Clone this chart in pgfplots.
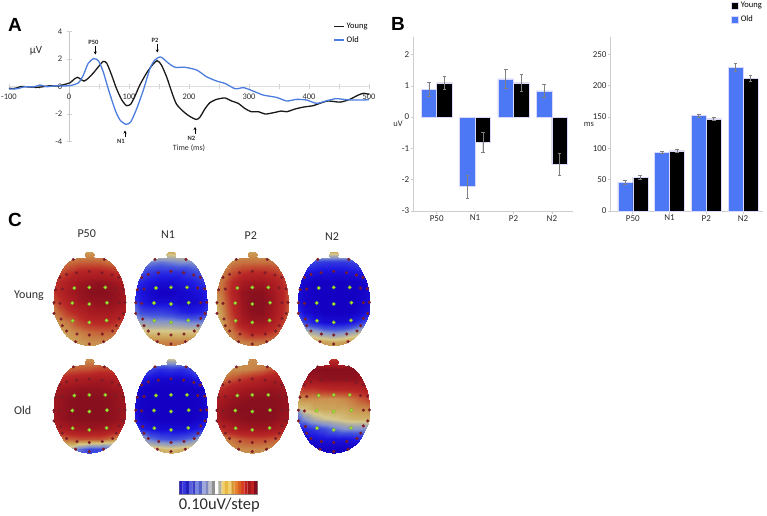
\documentclass[border=0pt]{standalone}
\usepackage{fontspec}
\setmainfont{Carlito}
\newfontfamily\lsans{Liberation Sans}
\usepackage{pgfplots}
\usepackage{pgfplotstable}
\usetikzlibrary{arrows.meta}
\pgfplotsset{compat=1.18}
\definecolor{cblue}{RGB}{76,125,222}
\definecolor{bblue}{RGB}{76,120,245}
\definecolor{axg}{RGB}{205,205,205}
\definecolor{txt}{RGB}{45,45,45}
\definecolor{dotdark}{RGB}{125,28,38}
\definecolor{dotgreen}{RGB}{160,235,50}
\definecolor{dotrim}{RGB}{120,160,45}
\pgfplotsset{
  colormap={topo}{rgb255(0)=(20,0,195) rgb255(2)=(30,25,225) rgb255(5)=(70,85,220) rgb255(7)=(130,145,205) rgb255(9)=(172,172,165) rgb255(10.5)=(215,200,140) rgb255(12)=(205,170,95) rgb255(13.5)=(200,130,70) rgb255(15)=(195,80,50) rgb255(16.5)=(185,40,38) rgb255(18.5)=(165,25,32) rgb255(20)=(135,15,30)},
  headax/.style={hide axis, scale only axis, width=80pt, height=104pt, xmin=-40, xmax=40, ymin=-52, ymax=52, clip=false},
  barax/.style={scale only axis, axis x line=bottom, axis y line=left, axis line style={axg,-,line width=0.9pt},
    tick style={axg,line width=0.6pt}, major tick length=2.5pt, tick align=outside,
    xtick={0,1,2,3}, xticklabels={P50,N1,P2,N2},
    ticklabel style={font=\fontsize{9}{10}\selectfont, text=txt, inner sep=1.5pt},
    /pgf/number format/assume math mode=true,
    error bars/error bar style={draw=black!50,line width=0.7pt},
    error bars/error mark options={rotate=90,draw=black!50,mark size=1.8pt,line width=0.6pt},
    xtick pos=bottom, ytick pos=left},
}
% curves: time (ms), amplitude (uV)
\pgfplotstableread{
t v
-100 -0.12
-90 -0.12
-79 0.02
-68 -0.02
-54 -0.05
-43 0
-32 0.07
-18 0.05
-7 0.17
2 0.29
8 0.53
14 0.68
19 0.56
25 0.41
32 0.61
41 1.02
49 1.45
57 1.84
63 1.7
71 0.85
79 -0.12
88 -0.97
96 -1.38
103 -1.26
110 -0.68
118 0.12
129 0.97
138 1.53
147 1.89
154 1.58
163 0.68
171 -0.36
179 -1.26
191 -1.82
202 -2.18
212 -2.38
218 -2.23
227 -1.58
235 -1.16
246 -0.92
260 -0.82
271 -1.04
282 -1.21
293 -1.58
304 -1.82
316 -1.82
327 -1.99
341 -1.89
354 -1.77
363 -1.82
377 -1.62
391 -1.48
407 -1.38
418 -1.21
432 -1.04
452 -1.12
468 -0.92
482 -0.61
491 -0.48
500 -0.56
}\tYoung
\pgfplotstableread{
t v
-100 -0.17
-87 -0.15
-73 0
-59 -0.02
-48 0.12
-37 0
-23 0.07
-9 0.05
4 0.1
16 0.29
24 0.85
32 1.7
41 2.04
49 1.89
57 1.09
66 -0.24
77 -1.7
85 -2.42
95 -2.74
103 -2.55
113 -1.58
124 -0.24
135 1.33
143 1.94
153 2.16
166 1.7
177 1.41
193 1.41
213 1.21
229 0.73
246 0.41
260 0.24
277 -0.15
291 -0.07
307 -0.32
324 -0.61
346 -0.78
363 -1.04
379 -0.92
396 -0.97
413 -1.21
432 -0.99
446 -0.87
463 -0.95
482 -0.97
500 -0.95
}\tOld
% bars
\pgfplotstableread{
x y e
0 0.89 0.235
1 -2.22 0.36
2 1.22 0.30
3 0.84 0.21
}\tAO
\pgfplotstableread{
x y e
0 1.09 0.215
1 -0.81 0.33
2 1.09 0.265
3 -1.5 0.345
}\tAY
\pgfplotstableread{
x y e
0 46 3
1 94 2
2 152 3
3 229 6
}\tLO
\pgfplotstableread{
x y e
0 54 3
1 96 2.5
2 147 3
3 212 5
}\tLY
% electrodes
\pgfplotstableread{
u v
-15 13.7
0 14.3
16 14.3
-17 -1.3
0 -2.3
17.7 -1
-16.7 -19
0 -20.7
17.3 -18.7
}\tGreen
\pgfplotstableread{
u v
0 30.3
-12.7 29
12.7 29
-22.7 27.3
22.7 26.7
-29.3 24.3
29.3 24.3
-16 42.3
15 42.3
-33.7 12
-27 12.7
26.7 13.7
33.7 13
-35.3 -1
-29.3 -1.7
29.7 -1
35.7 -0.7
-35.3 -11.7
-28.3 -17.3
29.7 -16.7
34 -11.7
-22.7 -29.3
23.3 -29.3
-12.3 -32.3
13 -32.3
0 -33.3
-13.7 -40
14.3 -40
0 -42.3
-27 -24
27 -24
}\tDark
% scalp maps: 11 rows (v=50 to -50) of 9 columns (u=-40 to 40)
\pgfplotstableread[row sep=crcr,header=false]{
.25\\.25\\.25\\.25\\.25\\.25\\.25\\.25\\.25\\
.3\\.35\\.4\\.45\\.45\\.45\\.4\\.35\\.3\\
.45\\.5\\.6\\.7\\.72\\.72\\.68\\.6\\.5\\
.55\\.65\\.8\\.88\\.92\\.95\\.92\\.85\\.7\\
.55\\.68\\.85\\.93\\.98\\1\\.98\\.92\\.8\\
.45\\.6\\.75\\.88\\.92\\.95\\.95\\.9\\.8\\
.35\\.45\\.6\\.72\\.82\\.85\\.85\\.8\\.7\\
.2\\.3\\.4\\.55\\.65\\.68\\.68\\.6\\.5\\
.15\\.2\\.28\\.35\\.42\\.45\\.45\\.4\\.35\\
.15\\.15\\.2\\.25\\.3\\.3\\.3\\.3\\.3\\
.2\\.2\\.2\\.2\\.2\\.2\\.2\\.2\\.2\\
}\hYA
\pgfplotstableread[row sep=crcr,header=false]{
.2\\.2\\.2\\.2\\.2\\.2\\.2\\.2\\.2\\
-.2\\-.25\\-.35\\-.4\\-.35\\-.3\\-.3\\-.2\\-.2\\
-.45\\-.55\\-.65\\-.7\\-.7\\-.7\\-.6\\-.5\\-.4\\
-.6\\-.75\\-.85\\-.9\\-.9\\-.85\\-.8\\-.7\\-.6\\
-.7\\-.85\\-.95\\-1\\-1\\-.95\\-.9\\-.85\\-.7\\
-.6\\-.8\\-.9\\-.9\\-.9\\-.95\\-.95\\-.9\\-.7\\
-.4\\-.55\\-.6\\-.6\\-.65\\-.75\\-.8\\-.75\\-.55\\
-.1\\-.2\\-.25\\-.25\\-.25\\-.3\\-.35\\-.35\\-.2\\
.2\\.15\\.1\\.1\\.1\\.1\\.1\\.1\\.1\\
.35\\.35\\.35\\.35\\.35\\.35\\.35\\.35\\.35\\
.4\\.4\\.4\\.4\\.4\\.4\\.4\\.4\\.4\\
}\hYB
\pgfplotstableread[row sep=crcr,header=false]{
.25\\.25\\.25\\.25\\.25\\.25\\.25\\.25\\.25\\
.25\\.3\\.35\\.4\\.4\\.4\\.4\\.35\\.3\\
.3\\.35\\.5\\.6\\.65\\.65\\.6\\.5\\.4\\
.3\\.4\\.65\\.82\\.88\\.88\\.8\\.65\\.4\\
.3\\.4\\.7\\.92\\.98\\.98\\.88\\.7\\.4\\
.2\\.35\\.65\\.9\\1\\1\\.9\\.7\\.38\\
.1\\.3\\.6\\.88\\.98\\.98\\.88\\.68\\.3\\
0\\.25\\.5\\.8\\.9\\.9\\.8\\.6\\.3\\
.1\\.25\\.38\\.55\\.68\\.68\\.6\\.45\\.28\\
.2\\.25\\.3\\.35\\.38\\.38\\.35\\.3\\.25\\
.3\\.3\\.3\\.3\\.3\\.3\\.3\\.3\\.3\\
}\hYC
\pgfplotstableread[row sep=crcr,header=false]{
.2\\.2\\.2\\.2\\.2\\.2\\.2\\.2\\.2\\
-.4\\-.5\\-.6\\-.65\\-.65\\-.65\\-.6\\-.5\\-.4\\
-.7\\-.8\\-.85\\-.88\\-.88\\-.88\\-.85\\-.8\\-.7\\
-.85\\-.95\\-1\\-1\\-1\\-1\\-1\\-.95\\-.85\\
-.85\\-.95\\-1\\-1\\-1\\-1\\-1\\-.95\\-.85\\
-.85\\-.95\\-1\\-1\\-1\\-1\\-1\\-.95\\-.85\\
-.75\\-.9\\-.98\\-1\\-1\\-1\\-.98\\-.9\\-.75\\
-.3\\-.6\\-.8\\-.9\\-.92\\-.9\\-.8\\-.6\\-.35\\
.1\\0\\-.15\\-.3\\-.35\\-.3\\-.15\\0\\.1\\
.3\\.3\\.3\\.25\\.2\\.25\\.3\\.3\\.3\\
.3\\.3\\.3\\.3\\.3\\.3\\.3\\.3\\.3\\
}\hYD
\pgfplotstableread[row sep=crcr,header=false]{
.3\\.3\\.3\\.3\\.3\\.3\\.3\\.3\\.3\\
.35\\.4\\.45\\.48\\.5\\.55\\.55\\.5\\.45\\
.6\\.65\\.75\\.8\\.82\\.85\\.82\\.75\\.65\\
.8\\.88\\.92\\.95\\.95\\.95\\.92\\.88\\.78\\
.85\\.92\\.98\\1\\1\\1\\.98\\.92\\.85\\
.85\\.92\\.98\\1\\1\\1\\.98\\.92\\.85\\
.85\\.92\\.98\\1\\1\\1\\.98\\.92\\.85\\
.7\\.78\\.85\\.88\\.9\\.88\\.85\\.78\\.7\\
.25\\.35\\.45\\.5\\.5\\.5\\.4\\.25\\.1\\
-.1\\0\\-.1\\-.4\\-.55\\-.55\\-.5\\-.3\\-.2\\
-.4\\-.4\\-.4\\-.5\\-.6\\-.6\\-.5\\-.4\\-.4\\
}\hOA
\pgfplotstableread[row sep=crcr,header=false]{
0\\0\\0\\0\\0\\0\\0\\0\\0\\
-.1\\-.35\\-.6\\-.7\\-.65\\-.7\\-.6\\-.35\\-.1\\
-.6\\-.8\\-.9\\-.95\\-.95\\-.95\\-.9\\-.8\\-.6\\
-.85\\-.98\\-1\\-1\\-1\\-1\\-1\\-.98\\-.85\\
-.85\\-.98\\-1\\-1\\-1\\-1\\-1\\-.98\\-.85\\
-.85\\-.98\\-1\\-1\\-1\\-1\\-1\\-.98\\-.85\\
-.8\\-.95\\-1\\-1\\-1\\-1\\-1\\-.95\\-.8\\
-.55\\-.75\\-.85\\-.9\\-.9\\-.9\\-.85\\-.75\\-.55\\
.05\\-.1\\-.4\\-.5\\-.55\\-.5\\-.4\\-.1\\.05\\
.3\\.25\\.2\\.15\\.1\\.15\\.2\\.25\\.3\\
.3\\.3\\.3\\.3\\.3\\.3\\.3\\.3\\.3\\
}\hOB
\pgfplotstableread[row sep=crcr,header=false]{
.3\\.3\\.3\\.3\\.3\\.3\\.3\\.3\\.3\\
.25\\.28\\.3\\.32\\.35\\.4\\.5\\.55\\.5\\
.3\\.38\\.5\\.6\\.68\\.75\\.8\\.8\\.7\\
.5\\.65\\.78\\.85\\.88\\.9\\.92\\.9\\.85\\
.75\\.85\\.92\\.95\\.98\\.98\\.98\\.95\\.9\\
.85\\.92\\.98\\1\\1\\1\\1\\.95\\.88\\
.8\\.9\\.95\\.98\\1\\1\\.98\\.92\\.85\\
.5\\.65\\.78\\.85\\.88\\.88\\.85\\.78\\.6\\
.25\\.32\\.4\\.48\\.52\\.52\\.48\\.4\\.3\\
.25\\.28\\.3\\.32\\.32\\.32\\.3\\.28\\.25\\
.3\\.3\\.3\\.3\\.3\\.3\\.3\\.3\\.3\\
}\hOC
\pgfplotstableread[row sep=crcr,header=false]{
.6\\.6\\.6\\.6\\.6\\.6\\.6\\.6\\.6\\
.9\\.95\\1\\1\\1\\1\\1\\.95\\.9\\
.85\\.9\\.9\\.95\\.95\\.95\\.95\\.92\\.88\\
.55\\.6\\.6\\.65\\.68\\.68\\.7\\.75\\.75\\
.25\\.3\\.3\\.28\\.28\\.32\\.4\\.5\\.6\\
.05\\.1\\.2\\.22\\.22\\.22\\.28\\.3\\.35\\
-.35\\-.3\\-.1\\0\\.05\\.1\\.15\\.15\\.15\\
-.8\\-.75\\-.65\\-.55\\-.4\\-.3\\-.3\\-.3\\-.2\\
-.95\\-.95\\-.9\\-.85\\-.85\\-.85\\-.8\\-.7\\-.6\\
-1\\-1\\-1\\-1\\-1\\-1\\-1\\-1\\-1\\
-1\\-1\\-1\\-1\\-1\\-1\\-1\\-1\\-1\\
}\hOD
\newcommand\head[3]{%
  \begin{scope}
    \clip[shift={(#1,515-#2)}] plot[smooth cycle,tension=0.6] coordinates {(0,44.5)(-4,44.6)(-5,47)(-3,50.2)(0,51)(3,50.2)(5,47)(4,44.6)(10,44)(16,43)(24,37)(30,27)(33,20)(35,12)(36,3)(36,-5)(35.5,-12)(31,-22)(26,-31)(20,-37)(12,-41.5)(5,-43.5)(0,-44)(-5,-43.5)(-12,-41.5)(-20,-37)(-26,-31)(-31,-22)(-35.5,-12)(-36,-5)(-36,3)(-35,12)(-33,20)(-30,27)(-24,37)(-16,43)(-10,44)};
    \begin{axis}[headax, at={(#1pt,515pt-#2pt)}, anchor=center, colormap name=topo, point meta min=-1, point meta max=1]
      \addplot[surf, shader=interp, mesh/cols=9, point meta=explicit]
        table[x index=0, y index=0, meta index=0, x expr={mod(\coordindex,9)*10-40}, y expr={50-10*floor(\coordindex/9)}] {#3};
    \end{axis}
  \end{scope}
  \begin{axis}[headax, at={(#1pt,515pt-#2pt)}, anchor=center]
    \addplot[only marks, mark=*, mark size=1.45pt, mark options={fill=dotdark, draw=dotdark, line width=0.2pt}] table[x=u,y=v] {\tDark};
    \addplot[only marks, mark=*, mark size=1.8pt, mark options={fill=dotgreen, draw=dotrim, line width=0.3pt}] table[x=u,y=v] {\tGreen};
  \end{axis}
}
\newcommand\cb[5]{\addplot[draw=none,fill={rgb,255:red,#3;green,#4;blue,#5}] coordinates {(#1,0)(#2,0)(#2,1)(#1,1)(#1,0)};}
\begin{document}
\begin{tikzpicture}[x=1pt,y=1pt]
\path[use as bounding box] (0,0) rectangle (767,515);
% ---- A ----
\node[font=\lsans\bfseries\fontsize{19}{20}\selectfont] at (15,515-25) {A};
\begin{axis}[scale only axis, width=360pt, height=110pt, at={(9pt,373.3pt)}, anchor=south west,
  xmin=-100, xmax=500, ymin=-4, ymax=4,
  axis x line=middle, axis y line=middle, axis line style={-,line width=0.8pt},
  x axis line style={draw=black!13}, y axis line style={draw=black!22},
  xtick={-100,0,...,500}, minor x tick num=1, ytick={-4,-2,0,2,4},
  hide obscured x ticks=false, hide obscured y ticks=false,
  tick style={black!18,line width=0.7pt}, major tick length=5pt, minor tick length=5pt,
  xticklabel style={font=\fontsize{8.5}{9}\selectfont, text=txt, yshift=-3pt, inner sep=1.5pt},
  yticklabel style={font=\fontsize{8.5}{9}\selectfont, text=txt, xshift=-3pt, inner sep=1pt},
  /pgf/number format/assume math mode=true, clip=false,
  legend style={at={(0.9,1.1)}, anchor=north west, draw=none, fill=none, inner sep=0pt, font=\fontsize{8.5}{10}\selectfont, row sep=2.6pt, /tikz/every even column/.style={column sep=1pt}},
  legend cell align=left,
  legend image code/.code={\draw[#1,line width=1.5pt] (0,0) -- (10pt,0);}]
\addplot[no marks, black!90, line width=1.3pt, smooth, tension=0.4] table[x=t,y=v] {\tYoung};
\addplot[no marks, cblue, line width=1.3pt, smooth, tension=0.4] table[x=t,y=v] {\tOld};
\legend{Young,Old}
\end{axis}
\node[font=\fontsize{11}{12}\selectfont, text=txt] at (36,515-51) {µV};
\node[font=\fontsize{6.5}{7}\selectfont\bfseries, text=txt] at (93.5,515-42) {P50};
\node[font=\fontsize{6.5}{7}\selectfont\bfseries, text=txt] at (155,515-40) {P2};
\node[font=\fontsize{6.5}{7}\selectfont\bfseries, text=txt] at (121,515-141.5) {N1};
\node[font=\fontsize{6.5}{7}\selectfont\bfseries, text=txt] at (191.5,515-138) {N2};
\node[font=\fontsize{8}{9}\selectfont, text=txt] at (189,515-148) {Time (ms)};
\draw[-{Stealth[length=3pt,width=3pt]},line width=0.7pt] (95.3,515-46.5) -- (95.3,515-54.5);
\draw[-{Stealth[length=3pt,width=3pt]},line width=0.7pt] (157.3,515-44.5) -- (157.3,515-52.5);
\draw[-{Stealth[length=3pt,width=3pt]},line width=0.7pt] (125,515-137) -- (125,515-130.5);
\draw[-{Stealth[length=3pt,width=3pt]},line width=0.7pt] (195,515-134) -- (195,515-127);
% ---- B ----
\node[font=\lsans\bfseries\fontsize{19}{20}\selectfont] at (398,515-24) {B};
\begin{axis}[barax, ybar=0pt, bar width=15.6pt, width=159.7pt, height=173.7pt, at={(413.3pt,304pt)}, anchor=south west,
  xmin=-0.61, xmax=3.55, ymin=-3, ymax=2.55, ytick={-3,-2,-1,0,1,2}]
\addplot[fill=bblue, draw=blue!15, line width=0.5pt,
  error bars/.cd, y dir=both, y explicit] table[x=x,y=y,y error=e] {\tAO};
\addplot[fill=black, draw=blue!15, line width=0.5pt,
  error bars/.cd, y dir=both, y explicit] table[x=x,y=y,y error=e] {\tAY};
\end{axis}
\node[font=\fontsize{8.5}{9}\selectfont, text=txt] at (398,515-124) {uV};
\begin{axis}[barax, ybar=0pt, bar width=15pt, width=152.6pt, height=173.7pt, at={(610.7pt,304pt)}, anchor=south west,
  xmin=-0.6, xmax=3.55, ymin=0, ymax=277, ytick={0,50,100,150,200,250},
  legend style={at={(0.786,1.215)}, anchor=north west, draw=none, fill=none, inner sep=0pt, font=\fontsize{8.5}{10}\selectfont, row sep=2.5pt, /tikz/every even column/.style={column sep=1pt}},
  legend cell align=left, reverse legend,
  legend image code/.code={\fill[#1] (0,-3.5pt) rectangle (7.5pt,3.5pt);}]
\addplot[fill=bblue, draw=blue!15, line width=0.5pt,
  error bars/.cd, y dir=both, y explicit] table[x=x,y=y,y error=e] {\tLO};
\addplot[fill=black, draw=blue!15, line width=0.5pt,
  error bars/.cd, y dir=both, y explicit] table[x=x,y=y,y error=e] {\tLY};
\legend{Old,Young}
\end{axis}
\node[font=\fontsize{8.5}{9}\selectfont, text=txt] at (589,515-124) {ms};
% ---- C ----
\node[font=\lsans\bfseries\fontsize{19}{20}\selectfont] at (15,515-220) {C};
\foreach \t/\x/\y in {P50/86.7/234,N1/168/235,P2/250.7/235.7,N2/332/236.5,Young/29/295.7,Old/22.7/410}
  {\node[font=\fontsize{12}{13}\selectfont, text=txt] at (\x,515-\y) {\t};}
\head{89.3}{301.7}{\hYA}
\head{171}{301.7}{\hYB}
\head{252.3}{301.7}{\hYC}
\head{333.7}{301.7}{\hYD}
\head{89.3}{409.2}{\hOA}
\head{171}{409.2}{\hOB}
\head{252.3}{409.2}{\hOC}
\head{333.7}{409.2}{\hOD}
% colour scale
\begin{axis}[scale only axis, width=78pt, height=13pt, at={(179.3pt,21pt)}, anchor=south west,
  xmin=0, xmax=24, ymin=0, ymax=1, xtick=\empty, ytick=\empty, axis line style={black!45,line width=0.5pt}]
\cb{0}{1}{42}{32}{192}\cb{1}{2}{56}{56}{224}\cb{2}{3}{36}{32}{184}\cb{3}{4}{88}{96}{224}
\cb{4}{5}{58}{64}{200}\cb{5}{6}{120}{136}{224}\cb{6}{7}{80}{96}{200}\cb{7}{8}{160}{168}{224}
\cb{8}{9}{128}{136}{192}\cb{9}{10}{192}{192}{200}\cb{10}{11}{144}{144}{144}\cb{11}{12}{255}{255}{255}
\cb{12}{13}{176}{176}{160}\cb{13}{14}{240}{208}{112}\cb{14}{15}{232}{184}{64}\cb{15}{16}{240}{208}{112}
\cb{16}{17}{216}{152}{48}\cb{17}{18}{232}{128}{48}\cb{18}{19}{216}{96}{32}\cb{19}{20}{216}{64}{32}
\cb{20}{21}{192}{32}{32}\cb{21}{22}{160}{24}{24}\cb{22}{23}{192}{32}{32}\cb{23}{24}{128}{16}{32}
\end{axis}
\node[font=\fontsize{16.5}{18}\selectfont, text=txt] at (219.3,515-505.5) {0.10uV/step};
\end{tikzpicture}
\end{document}
